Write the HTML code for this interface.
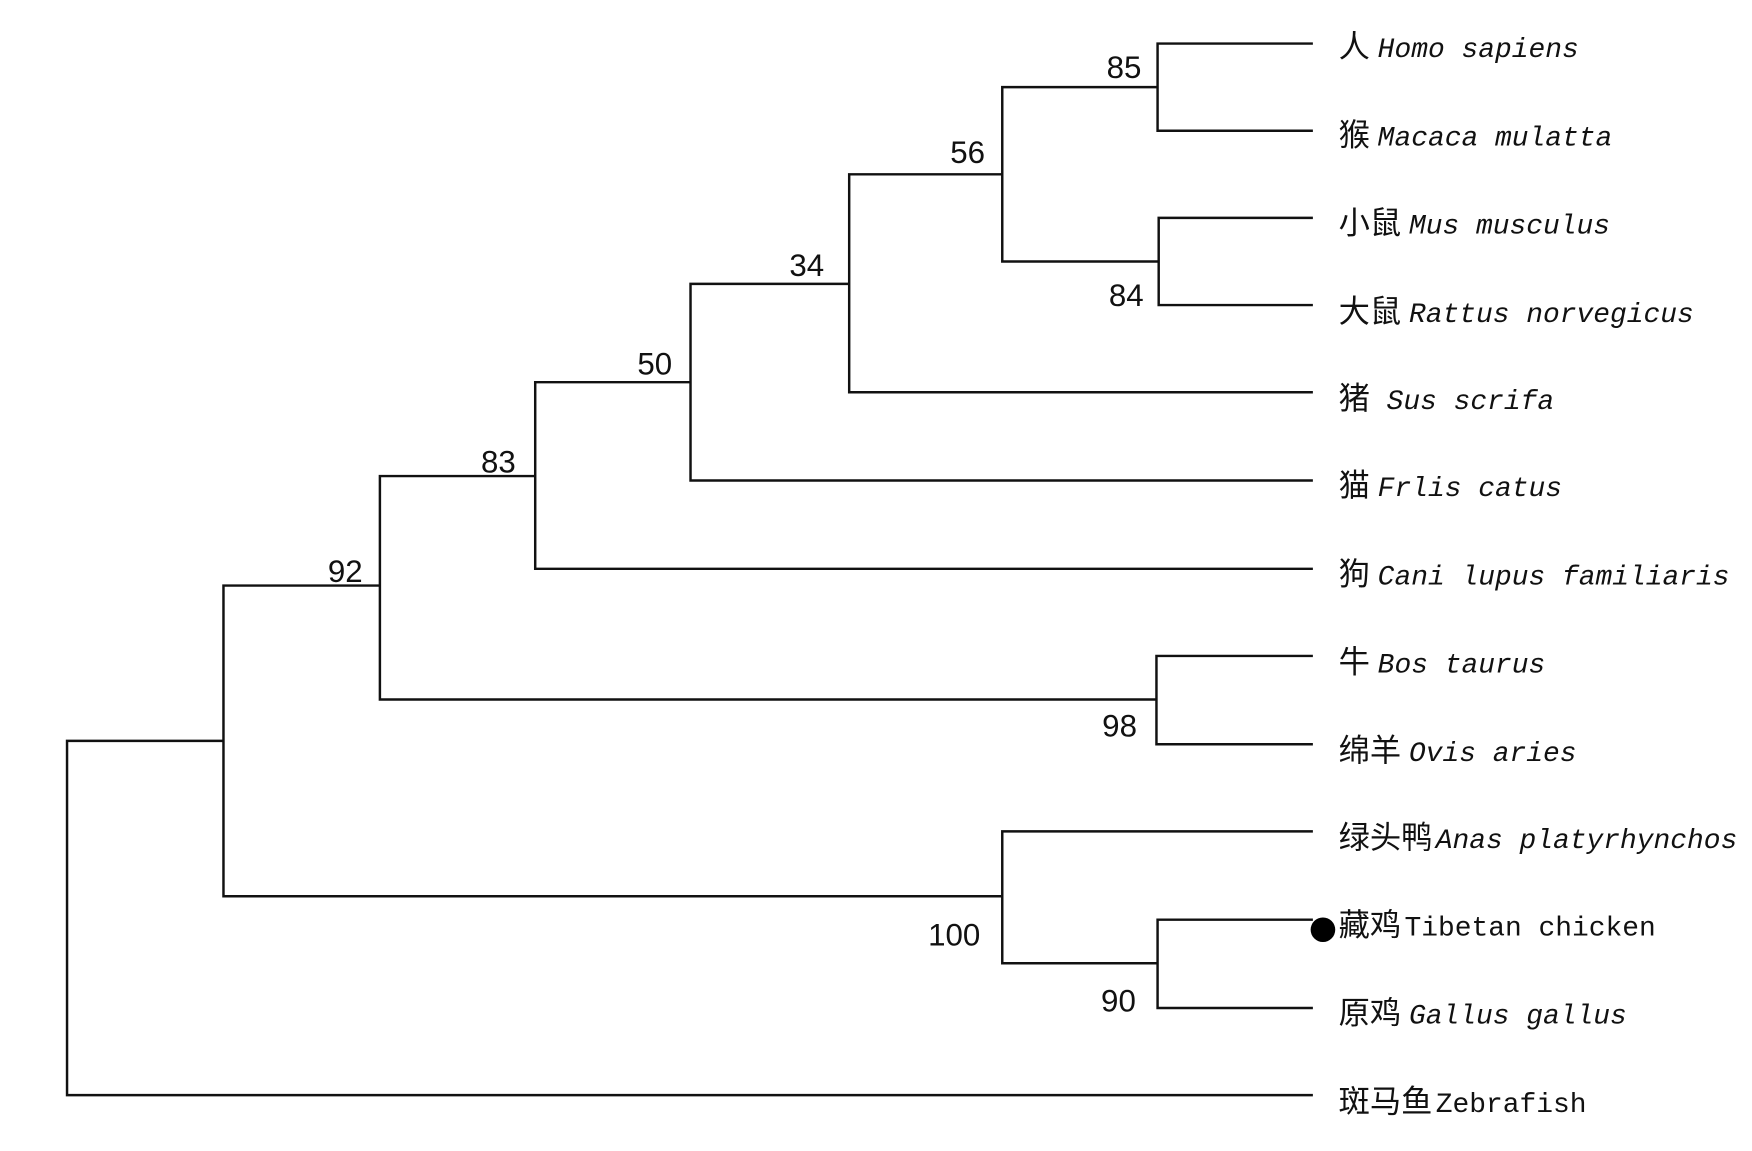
<!DOCTYPE html>
<html><head><meta charset="utf-8"><style>html,body{margin:0;padding:0;background:#fff}svg{display:block}</style></head>
<body>
<svg width="1752" height="1151" viewBox="0 0 1568 1030" preserveAspectRatio="none" xmlns="http://www.w3.org/2000/svg">
<g stroke="#111" stroke-width="2.2" fill="none">
<path d="M1175 39H1036V117H1175"/>
<path d="M1175 195H1037V273H1175"/>
<path d="M1036 78H897V234H1037"/>
<path d="M897 156H760V351H1175"/>
<path d="M760 254H618V430H1175"/>
<path d="M618 342H479V509H1175"/>
<path d="M1175 587H1035V666H1175"/>
<path d="M479 426H340V626H1035"/>
<path d="M1175 823H1036V902H1175"/>
<path d="M1175 744H897V862H1036"/>
<path d="M340 524H200V802H897"/>
<path d="M200 663H60V980H1175"/>
</g>
<circle cx="1184" cy="832" r="11" fill="#000"/>
<g font-family="'Liberation Sans', sans-serif" font-size="28" fill="#111" text-anchor="middle">
<text x="1006" y="70">85</text>
<text x="866" y="146">56</text>
<text x="722" y="247">34</text>
<text x="586" y="335">50</text>
<text x="446" y="423">83</text>
<text x="309" y="521">92</text>
<text x="1008" y="274">84</text>
<text x="1002" y="659">98</text>
<text x="854" y="846">100</text>
<text x="1001" y="905">90</text>
</g>
<g font-family="'Liberation Mono', 'Noto Sans CJK SC', monospace" font-size="25" fill="#111">
<text x="1198" y="51"><tspan font-size="28">人</tspan> <tspan font-style="italic" dx="-8">Homo sapiens</tspan></text>
<text x="1198" y="130"><tspan font-size="28">猴</tspan> <tspan font-style="italic" dx="-8">Macaca mulatta</tspan></text>
<text x="1198" y="209"><tspan font-size="28">小鼠</tspan> <tspan font-style="italic" dx="-8">Mus musculus</tspan></text>
<text x="1198" y="288"><tspan font-size="28">大鼠</tspan> <tspan font-style="italic" dx="-8">Rattus norvegicus</tspan></text>
<text x="1198" y="366"><tspan font-size="28">猪</tspan> <tspan font-style="italic">Sus scrifa</tspan></text>
<text x="1198" y="444"><tspan font-size="28">猫</tspan> <tspan font-style="italic" dx="-8">Frlis catus</tspan></text>
<text x="1198" y="523"><tspan font-size="28">狗</tspan> <tspan font-style="italic" dx="-8">Cani lupus familiaris</tspan></text>
<text x="1198" y="602"><tspan font-size="28">牛</tspan> <tspan font-style="italic" dx="-8">Bos taurus</tspan></text>
<text x="1198" y="681"><tspan font-size="28">绵羊</tspan> <tspan font-style="italic" dx="-8">Ovis aries</tspan></text>
<text x="1198" y="759"><tspan font-size="28">绿头鸭</tspan> <tspan font-style="italic" dx="-12">Anas platyrhynchos</tspan></text>
<text x="1198" y="837"><tspan font-size="28">藏鸡</tspan> <tspan dx="-12">Tibetan chicken</tspan></text>
<text x="1198" y="916"><tspan font-size="28">原鸡</tspan> <tspan font-style="italic" dx="-8">Gallus gallus</tspan></text>
<text x="1198" y="995"><tspan font-size="28">斑马鱼</tspan> <tspan dx="-12">Zebrafish</tspan></text>
</g>
</svg>
</body></html>
